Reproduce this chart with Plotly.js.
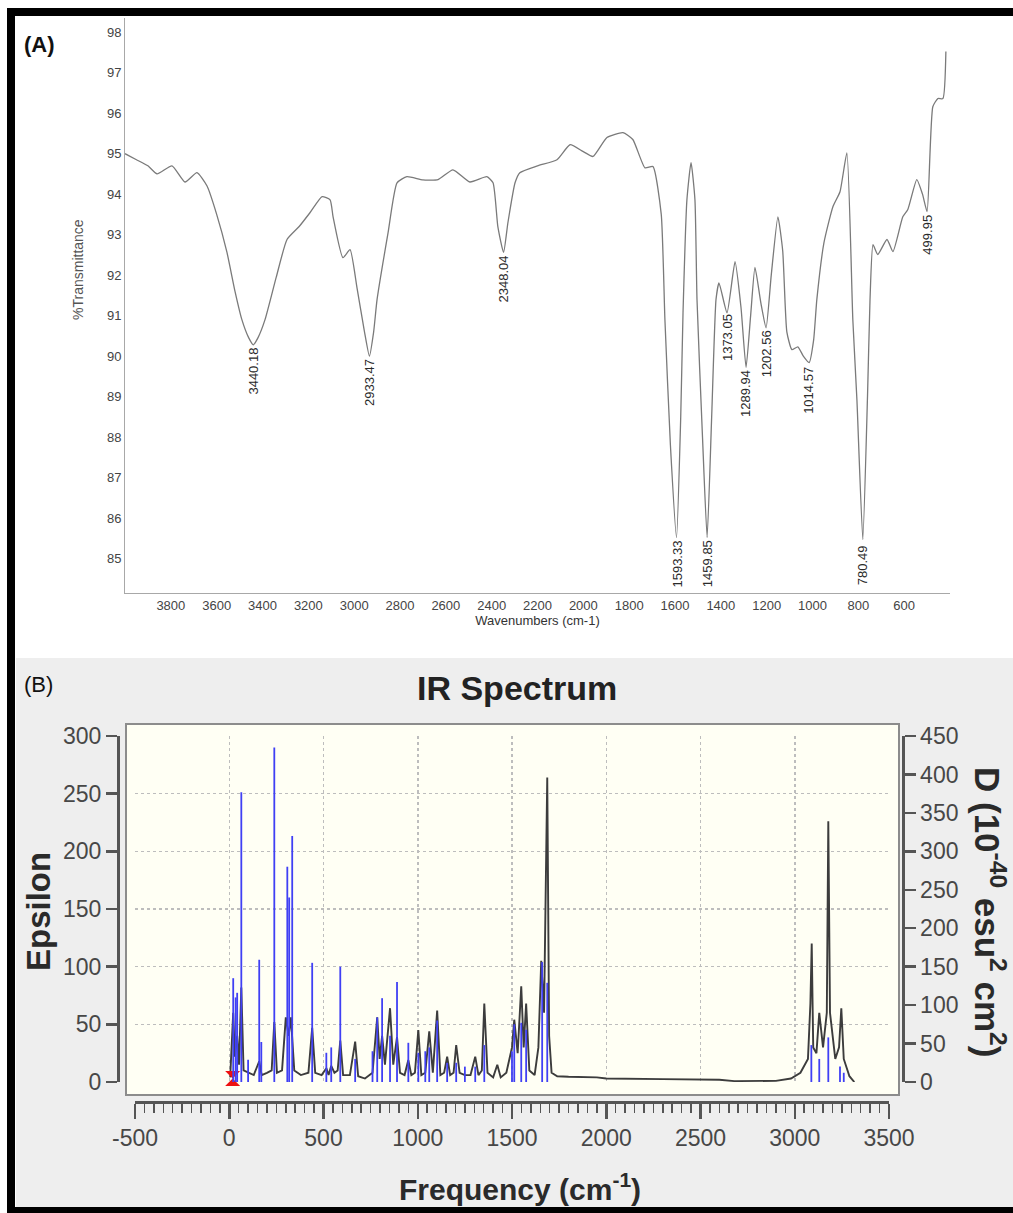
<!DOCTYPE html>
<html>
<head>
<meta charset="utf-8">
<script src="https://cdn.plot.ly/plotly-3.0.1.min.js"></script>
<style>html,body{margin:0;padding:0;background:#fff;}#chart{width:1013px;height:1213px;}</style>
</head>
<body>
<div id="chart"></div>
<script>
// ---------- Panel A: FT-IR spectrum ----------
const ftirWavenumber = [4000,3950,3900,3860,3795,3738,3686,3642,3600,3555,3520,3490,3460,3440.18,3420,3389,3340,3293,3240,3193,3140,3105,3092,3049,3018,2988,2955,2933.47,2915,2900,2852,2813,2770,2700,2634,2569,2495,2421,2394,2373,2348.04,2329,2298,2277,2200,2115,2058,2000,1958,1897,1827,1784,1731,1696,1660,1644,1620,1593.33,1575,1565,1548,1530,1513,1504,1480,1459.85,1440,1421,1408,1373.05,1338,1312,1289.94,1270,1251,1225,1202.56,1180,1151,1130,1112,1090,1064,1040,1014.57,995,981,950,911,880,850,824,806,780.49,760,749,736,715,675,649,606,584,545,520,499.95,475,453,431,418];
const ftirTransmittance = [95.0,94.85,94.7,94.5,94.7,94.3,94.53,94.2,93.5,92.56,91.6,90.9,90.45,90.28,90.45,90.9,91.95,92.88,93.2,93.54,93.94,93.86,93.44,92.43,92.63,91.7,90.6,90.0,90.6,91.4,93.05,94.28,94.43,94.35,94.36,94.6,94.3,94.43,94.28,93.2,92.56,93.3,94.28,94.53,94.7,94.85,95.22,95.05,94.93,95.4,95.52,95.35,94.65,94.68,93.5,90.9,87.8,85.52,88.5,91.07,93.86,94.78,93.86,91.4,88.0,85.52,88.5,91.4,91.81,91.07,92.33,91.2,89.72,91.0,92.19,91.3,90.7,92.0,93.44,92.6,90.6,90.16,90.23,90.0,89.84,90.4,91.4,92.8,93.69,94.06,95.02,90.9,88.9,85.47,89.0,91.4,92.75,92.51,92.88,92.58,93.44,93.62,94.36,94.0,93.57,96.16,96.36,96.36,97.52];
const peakWavenumbers = [3440.18,2933.47,2348.04,1593.33,1459.85,1373.05,1289.94,1202.56,1014.57,780.49,499.95];
const peakLabels = ["3440.18","2933.47","2348.04","1593.33","1459.85","1373.05","1289.94","1202.56","1014.57","780.49","499.95"];
const peakTransmittance = [90.28,90.0,92.56,85.52,85.52,91.1,89.72,90.7,89.8,85.4,93.57];
const ftirXTicks = [3800,3600,3400,3200,3000,2800,2600,2400,2200,2000,1800,1600,1400,1200,1000,800,600];
const ftirYTicks = [85,86,87,88,89,90,91,92,93,94,95,96,97,98];

// ---------- Panel B: computed IR spectrum ----------
const calcFrequency = [5,21,30,42,52,64,76,100,130,159,172,200,225,239,253,280,300,315,327,345,380,420,440,456,490,515,527,541,558,575,589,604,640,668,684,720,760,785,798,811,826,853,870,890,906,930,950,966,985,1003,1019,1040,1061,1080,1103,1120,1140,1156,1172,1190,1204,1222,1250,1280,1305,1322,1340,1353,1370,1400,1422,1440,1470,1500,1512,1530,1549,1562,1575,1592,1620,1640,1655,1670,1687,1697,1710,1740,1800,1950,2000,2300,2600,2680,2900,2980,3030,3070,3083,3090,3098,3115,3130,3150,3170,3178,3187,3215,3235,3247,3260,3290,3316];
const calcEpsilon = [4,60,22,40,15,82,10,8,6,18,6,8,10,52,8,10,56,40,56,10,6,8,47,8,6,12,6,14,8,10,36,6,6,35,5,3,8,56,20,40,15,64,15,39,8,6,19,6,8,45,6,8,44,8,62,6,8,22,6,8,32,8,6,6,22,6,10,68,8,4,15,4,8,30,54,25,83,30,68,10,6,30,105,60,264,40,8,5,4.5,4,3,2.5,2,0.8,1,3,8,20,68,120,30,25,60,30,60,226,60,20,30,64,20,5,0];
const stickFrequency = [21,34,42,64,100,159,170,239,308,318,334,440,515,541,589,668,760,785,811,853,890,950,1003,1040,1061,1103,1156,1204,1250,1305,1353,1500,1512,1549,1575,1660,1687,3088,3130,3178,3240,3260];
const stickD = [135,110,116,377,29,159,52,435,280,240,320,155,38,45,150,30,40,84,109,60,130,51,38,40,45,80,25,25,20,20,48,40,75,77,68,156,129,48,30,58,20,12];
const imagFrequency = [18];
const imagEpsilon = [3];
const freqTicks = [-500,0,500,1000,1500,2000,2500,3000,3500];
const epsTicks = [0,50,100,150,200,250,300];
const dTicks = [0,50,100,150,200,250,300,350,400,450];

// build stick segments from the data arrays
const stickX = [], stickY = [];
stickFrequency.forEach((f, i) => { stickX.push(f, f, null); stickY.push(0, stickD[i], null); });

// ---------- layout helpers (pixel -> paper) ----------
const W = 1013, H = 1213;
const px = v => v / W;
const py = v => 1 - v / H;
const SANS = '"Liberation Sans", Arial, sans-serif';

const traces = [
  { x: ftirWavenumber, y: ftirTransmittance, xaxis: 'x', yaxis: 'y', type: 'scatter', mode: 'lines',
    line: { color: '#7a7a7a', width: 1.3, shape: 'spline', smoothing: 0.5 }, hoverinfo: 'skip' },
  { x: stickX, y: stickY, xaxis: 'x2', yaxis: 'y3', type: 'scatter', mode: 'lines',
    line: { color: '#4040f4', width: 1.8 }, hoverinfo: 'skip' },
  { x: calcFrequency, y: calcEpsilon, xaxis: 'x2', yaxis: 'y2', type: 'scatter', mode: 'lines',
    line: { color: '#3c3c3c', width: 1.9 }, hoverinfo: 'skip' },
  { x: imagFrequency, y: imagEpsilon, xaxis: 'x2', yaxis: 'y2', type: 'scatter', mode: 'markers', cliponaxis: false,
    marker: { symbol: 'hourglass', size: 15, color: '#ee1111' }, hoverinfo: 'skip' }
];

const annotations = peakWavenumbers.map((w, i) => ({
  x: w, y: peakTransmittance[i], xref: 'x', yref: 'y', text: peakLabels[i], showarrow: false,
  textangle: -90, xanchor: 'center', yanchor: 'top', yshift: -1,
  font: { family: SANS, size: 13, color: '#2a2a2a' }
}));
annotations.push(
  { xref: 'paper', yref: 'paper', x: px(22), y: py(45), xanchor: 'left', yanchor: 'middle', showarrow: false,
    text: '<b>(A)</b>', font: { family: SANS, size: 22, color: '#111' } },
  { xref: 'paper', yref: 'paper', x: px(78), y: py(270), xanchor: 'center', yanchor: 'middle', showarrow: false,
    textangle: -90, text: '%Transmittance', font: { family: SANS, size: 14, color: '#555' } },
  { xref: 'paper', yref: 'paper', x: px(22), y: py(684), xanchor: 'left', yanchor: 'middle', showarrow: false,
    text: '(B)', font: { family: SANS, size: 22, color: '#111' } },
  { xref: 'paper', yref: 'paper', x: px(517), y: py(688), xanchor: 'center', yanchor: 'middle', showarrow: false,
    text: '<b>IR Spectrum</b>', font: { family: SANS, size: 34, color: '#222' } },
  { xref: 'paper', yref: 'paper', x: px(38), y: py(912), xanchor: 'center', yanchor: 'middle', showarrow: false,
    textangle: -90, text: '<b>Epsilon</b>', font: { family: SANS, size: 33, color: '#2a2a2a' } },
  { xref: 'paper', yref: 'paper', x: px(990), y: py(912), xanchor: 'center', yanchor: 'middle', showarrow: false,
    textangle: 90, text: '<b>D (10<sup>-40</sup> esu<sup>2</sup> cm<sup>2</sup>)</b>', font: { family: SANS, size: 35, color: '#2a2a2a' } },
  { xref: 'paper', yref: 'paper', x: px(520), y: py(1187), xanchor: 'center', yanchor: 'middle', showarrow: false,
    text: '<b>Frequency (cm<sup>-1</sup>)</b>', font: { family: SANS, size: 30, color: '#2a2a2a' } }
);

const rect = (x0, y0, x1, y1, fill, line) => ({
  type: 'rect', xref: 'paper', yref: 'paper', x0: px(x0), x1: px(x1), y0: py(y1), y1: py(y0),
  fillcolor: fill, line: line || { width: 0 }, layer: 'below'
});
const shapes = [
  rect(16, 658, 1013, 1207, '#eeeeee'),
  rect(126, 724, 899, 1095, '#fffff4', { color: '#8c8c8c', width: 2 }),
  rect(7, 8, 1013, 16, '#000'),
  rect(7, 8, 15, 1213, '#000'),
  rect(7, 1207, 1013, 1213, '#000')
];
shapes.slice(2).forEach(s => s.layer = 'above');

const bTick = { family: SANS, size: 23, color: '#474747' };
const layout = {
  width: W, height: H, margin: { l: 0, r: 0, t: 0, b: 0 },
  paper_bgcolor: '#ffffff', plot_bgcolor: 'rgba(0,0,0,0)', showlegend: false,
  xaxis: {
    domain: [px(125), px(950)], range: [4000, 400], anchor: 'y', autorange: false,
    showline: true, linecolor: '#a8a8a8', linewidth: 1, ticks: '', showgrid: false, zeroline: false,
    tickmode: 'array', tickvals: ftirXTicks, ticktext: ftirXTicks.map(String),
    tickfont: { family: SANS, size: 13, color: '#444' },
    title: { text: 'Wavenumbers (cm-1)', font: { family: SANS, size: 13, color: '#333' }, standoff: 4 }
  },
  yaxis: {
    domain: [py(593), py(18)], range: [84.15, 98.35], anchor: 'x', autorange: false,
    showline: true, linecolor: '#a8a8a8', linewidth: 1, ticks: '', showgrid: false, zeroline: false,
    tickmode: 'array', tickvals: ftirYTicks, ticktext: ftirYTicks.map(String),
    tickfont: { family: SANS, size: 13, color: '#444' }
  },
  xaxis2: {
    domain: [px(135), px(889)], range: [-500, 3500], autorange: false, anchor: 'free', position: py(1102),
    showline: true, linecolor: '#555', linewidth: 2.5, ticks: 'outside', ticklen: 15, tickwidth: 2.5, tickcolor: '#555',
    tickmode: 'array', tickvals: freqTicks, ticktext: freqTicks.map(String), tickfont: bTick, zeroline: false,
    showgrid: true, gridcolor: '#bdbdbd', gridwidth: 1.5, griddash: 'dot',
    minor: { dtick: 50, tick0: 0, ticklen: 9, tickwidth: 1.5, tickcolor: '#555', ticks: 'outside', showgrid: false }
  },
  yaxis2: {
    domain: [py(1082), py(736)], range: [0, 300], autorange: false, anchor: 'free', position: px(118),
    showline: true, linecolor: '#555', linewidth: 2.5, ticks: 'outside', ticklen: 11, tickwidth: 2.5, tickcolor: '#555',
    tickmode: 'array', tickvals: epsTicks, ticktext: epsTicks.map(String), tickfont: bTick, zeroline: false,
    showgrid: true, gridcolor: '#bdbdbd', gridwidth: 1.5, griddash: 'dot'
  },
  yaxis3: {
    overlaying: 'y2', side: 'right', range: [0, 450], autorange: false, anchor: 'free', position: px(903),
    showline: true, linecolor: '#555', linewidth: 2.5, ticks: 'outside', ticklen: 11, tickwidth: 2.5, tickcolor: '#555',
    tickmode: 'array', tickvals: dTicks, ticktext: dTicks.map(String), tickfont: bTick, zeroline: false, showgrid: false
  },
  shapes: shapes,
  annotations: annotations
};

Plotly.newPlot('chart', traces, layout, { displayModeBar: false, staticPlot: true });
</script>
</body>
</html>
